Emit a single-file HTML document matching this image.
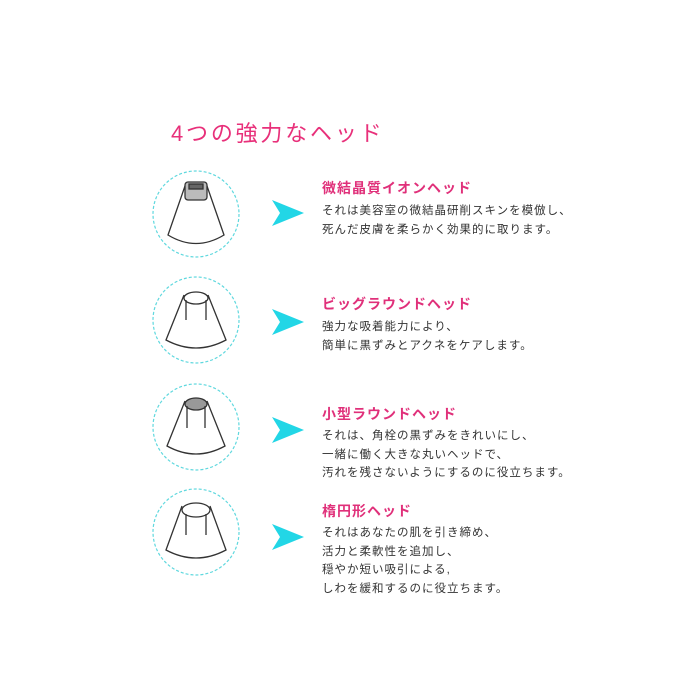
<!DOCTYPE html>
<html><head><meta charset="utf-8"><style>
body{margin:0;width:700px;height:700px;background:#fff;position:relative;overflow:hidden;font-family:"Liberation Sans","Noto Sans CJK JP",sans-serif}
.t{position:absolute;white-space:nowrap}
.title{left:171px;top:116px;font-size:22px;color:#e8307a;letter-spacing:2.8px}
.h{left:322px;font-size:14px;color:#e0307a;font-weight:bold;letter-spacing:1px}
.b{left:322px;font-size:11.5px;color:#333;line-height:18.7px;letter-spacing:1px}
</style></head><body>
<div class="t title">4つの強力なヘッド</div>
<svg width="700" height="700" style="position:absolute;left:0;top:0">
<g fill="none" stroke="#5fd8de" stroke-width="1.2" stroke-dasharray="3,2">
<circle cx="196" cy="214" r="43"/><circle cx="196" cy="320" r="43"/><circle cx="196" cy="427" r="43"/><circle cx="196" cy="532" r="43"/>
</g>
<g fill="#22d6e6">
<polygon points="272,200 304,213 272,226 280,213"/>
<polygon points="272,309 304,322 272,335 280,322"/>
<polygon points="272,417 304,430 272,443 280,430"/>
<polygon points="272,524 304,537 272,550 280,537"/>
</g>
<g fill="none" stroke="#333" stroke-width="1.3">
<path d="M185 186 L168 235 Q196 252 224 235 L207 186"/><rect x="185" y="182" width="22" height="18" rx="3" fill="#bbb"/><rect x="189" y="184" width="14" height="5" fill="#666"/>
<path d="M184 295 L166 340 Q196 356 226 340 L208 295"/><ellipse cx="196" cy="298" rx="12" ry="6"/><path d="M186 300 L186 320 M206 300 L206 320"/>
<path d="M185 401 L167 446 Q196 462 225 446 L207 401"/><ellipse cx="196" cy="404" rx="11" ry="6" fill="#999"/><path d="M187 406 L187 428 M205 406 L205 428"/>
<path d="M182 506 L166 550 Q196 566 226 550 L210 506"/><ellipse cx="196" cy="510" rx="14" ry="7"/><path d="M186 514 L186 535 M206 514 L206 535"/>
</g>
</svg>
<div class="t h" style="top:178px">微結晶質イオンヘッド</div>
<div class="t b" style="top:202px">それは美容室の微結晶研削スキンを模倣し、<br>死んだ皮膚を柔らかく効果的に取ります。</div>
<div class="t h" style="top:294px">ビッグラウンドヘッド</div>
<div class="t b" style="top:318px">強力な吸着能力により、<br>簡単に黒ずみとアクネをケアします。</div>
<div class="t h" style="top:404px">小型ラウンドヘッド</div>
<div class="t b" style="top:427px">それは、角栓の黒ずみをきれいにし、<br>一緒に働く大きな丸いヘッドで、<br>汚れを残さないようにするのに役立ちます。</div>
<div class="t h" style="top:501px">楕円形ヘッド</div>
<div class="t b" style="top:524px">それはあなたの肌を引き締め、<br>活力と柔軟性を追加し、<br>穏やか短い吸引による,<br>しわを緩和するのに役立ちます。</div>
</body></html>
